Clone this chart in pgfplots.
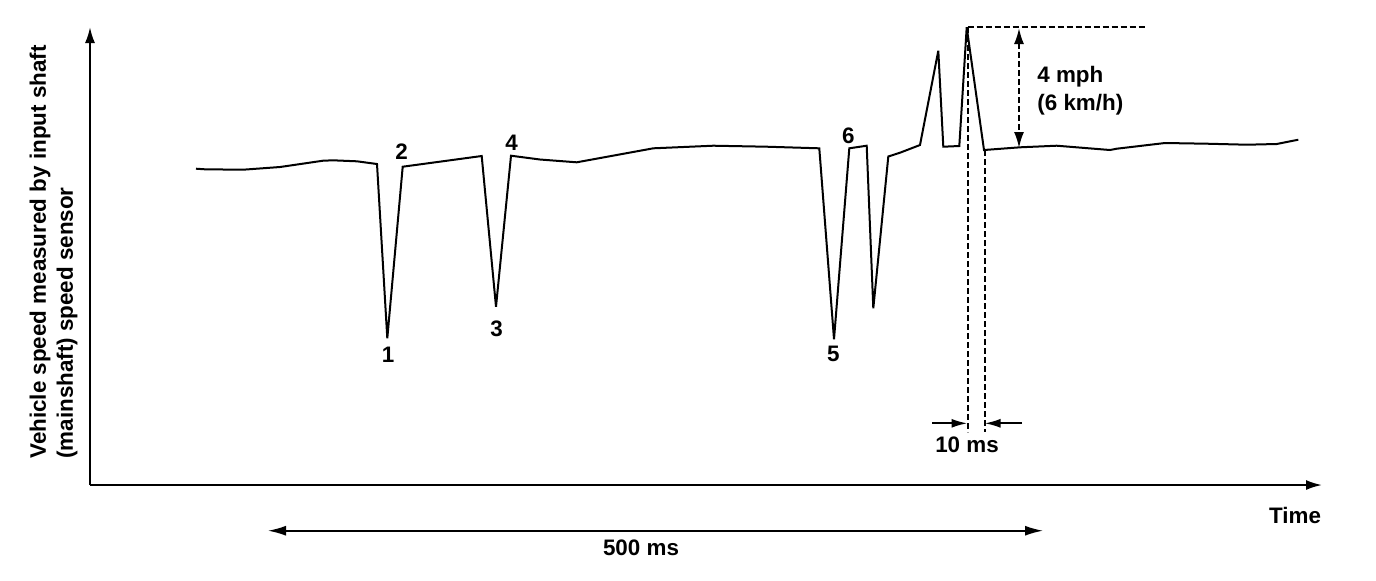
\documentclass[border=0pt]{standalone}
\usepackage{pgfplots}
\pgfplotsset{compat=1.18}
\usepackage{pgfplotstable}
\usepackage{fontspec}
\setmainfont{Liberation Sans}
\usetikzlibrary{arrows.meta}

% coordinates in reference pixels: px = horizontal, py = from the top
\pgfplotstableread{
px py
196 168.7
205 169.3
243 169.7
280 167
323 160.7
333 160.3
357 161.3
377 164
387.3 338.3
402.7 166.7
481.7 156
496 306.7
511 155.7
540 159.5
576.7 162.3
653.3 148.3
713.3 145.7
766.7 146.7
819.3 148.3
834 339.3
849.3 148.3
866.7 145.7
873.3 308.3
888.3 156.5
900 152.7
920 145
938.3 50.7
943.3 146.7
959.3 146
966.7 27.3
984 150
1020 147.3
1056.7 145.7
1110 150
1116.7 148.7
1165 143
1206.7 143.7
1246.7 144.7
1276.7 144
1298.3 139.7
}\speed

\begin{document}
\begin{tikzpicture}
\begin{axis}[
  scale only axis, width=616pt, height=229pt,
  xmin=90, xmax=1322, ymin=95, ymax=553,
  enlargelimits=false,
  axis lines=left, ticks=none,
  axis line style={line width=1pt, -{Latex[length=8pt,width=5pt]}},
  clip=false,
  font=\fontsize{11.2}{13.5}\selectfont\bfseries,
]
\path (axis cs:0,0) rectangle (axis cs:1376,580);
\addplot[black, line width=1pt, line join=miter, miter limit=4, mark=none] table[x=px, y expr=580-\thisrow{py}] {\speed};

% labels of dips
\node at (axis cs:388,225) {1};
\node at (axis cs:401.5,428.5) {2};
\node at (axis cs:496.5,251.5) {3};
\node at (axis cs:511.5,437.5) {4};
\node at (axis cs:833.3,226.5) {5};
\node at (axis cs:848.3,444) {6};

% axis titles
\node at (axis cs:1295,65) {Time};
\node[rotate=90, align=left, inner sep=0pt] at (axis cs:53.5,328) {Vehicle speed measured by input shaft\\(mainshaft) speed sensor};

% 500 ms
\draw[line width=0.8pt, {Latex[length=9pt,width=5pt]}-{Latex[length=9pt,width=5pt]}] (axis cs:268,49.3) -- (axis cs:1043,49.3);
\node at (axis cs:641,32) {500 ms};

% dashed guides
\draw[line width=1pt, dash pattern=on 3pt off 1.5pt] (axis cs:967.5,553) -- (axis cs:967.5,148);
\draw[line width=1pt, dash pattern=on 3pt off 1.5pt] (axis cs:984.5,430) -- (axis cs:984.5,148);
\draw[line width=1pt, dash pattern=on 3pt off 1.5pt] (axis cs:967.5,553) -- (axis cs:1145,553);
\draw[line width=1pt, dash pattern=on 3pt off 1.5pt, {Latex[length=8pt,width=5pt]}-{Latex[length=8pt,width=5pt]}] (axis cs:1019,552) -- (axis cs:1019,432);
\node[anchor=west, align=left, inner sep=0pt, font=\fontsize{11.2}{14}\selectfont\bfseries] at (axis cs:1037,489) {4 mph\\(6 km/h)};

% 10 ms
\draw[line width=1pt, -{Latex[length=8pt,width=4.5pt]}] (axis cs:932,156.7) -- (axis cs:967.5,156.7);
\draw[line width=1pt, -{Latex[length=8pt,width=4.5pt]}] (axis cs:1022,156.7) -- (axis cs:984.5,156.7);
\node at (axis cs:967,135) {10 ms};
\end{axis}
\end{tikzpicture}
\end{document}
